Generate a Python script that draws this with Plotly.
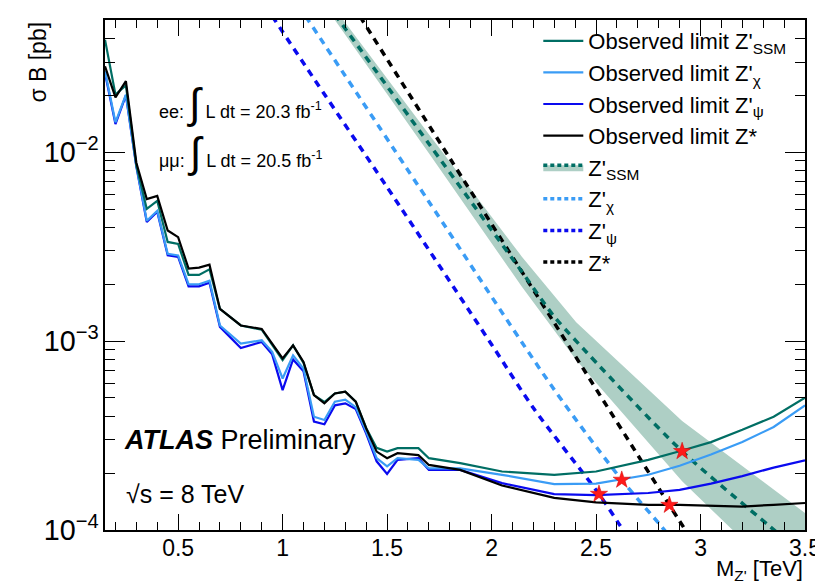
import plotly.graph_objects as go

FONT = "Liberation Sans, Arial, Helvetica, sans-serif"

# ---------------- data ----------------
mass = [0.15, 0.20, 0.25, 0.30, 0.35, 0.40, 0.45, 0.50, 0.55, 0.60, 0.65, 0.70,
        0.80, 0.90, 0.95, 1.00, 1.05, 1.10, 1.15, 1.20, 1.25, 1.30, 1.35, 1.40,
        1.45, 1.50, 1.55, 1.65, 1.70, 1.85, 2.05, 2.30, 2.50, 2.75, 2.90, 3.05,
        3.20, 3.35, 3.50]

obs_ssm = [3.94e-2, 2.02e-2, 2.26e-2, 8.5e-3, 5.01e-3, 5.53e-3, 3.35e-3, 3.27e-3,
           2.24e-3, 2.24e-3, 2.40e-3, 1.48e-3, 1.21e-3, 1.15e-3, 9.55e-4, 7.94e-4,
           9.5e-4, 7.67e-4, 5.18e-4, 4.76e-4, 5.28e-4, 5.40e-4, 4.78e-4, 3.47e-4,
           2.72e-4, 2.60e-4, 2.71e-4, 2.71e-4, 2.40e-4, 2.26e-4, 2.04e-4, 1.96e-4,
           2.04e-4, 2.35e-4, 2.61e-4, 2.92e-4, 3.39e-4, 3.98e-4, 5.01e-4]

obs_chi = [2.69e-2, 1.44e-2, 2.02e-2, 8.5e-3, 4.34e-3, 4.90e-3, 2.90e-3, 2.84e-3,
           2.0e-3, 2.0e-3, 2.09e-3, 1.21e-3, 9.7e-4, 1.01e-3, 8.77e-4, 6.34e-4,
           8.41e-4, 7.14e-4, 3.98e-4, 3.82e-4, 4.78e-4, 4.90e-4, 4.47e-4, 3.32e-4,
           2.40e-4, 2.17e-4, 2.40e-4, 2.35e-4, 2.12e-4, 2.12e-4, 1.96e-4, 1.75e-4,
           1.76e-4, 1.96e-4, 2.19e-4, 2.51e-4, 2.92e-4, 3.51e-4, 4.57e-4]

obs_psi = [2.63e-2, 1.41e-2, 2.0e-2, 8.4e-3, 4.27e-3, 4.84e-3, 2.85e-3, 2.79e-3,
           1.95e-3, 1.95e-3, 2.04e-3, 1.19e-3, 9.2e-4, 9.9e-4, 8.51e-4, 5.50e-4,
           8.0e-4, 6.92e-4, 3.75e-4, 3.63e-4, 4.57e-4, 4.68e-4, 4.37e-4, 3.24e-4,
           2.31e-4, 1.98e-4, 2.35e-4, 2.40e-4, 2.08e-4, 2.08e-4, 1.77e-4, 1.55e-4,
           1.53e-4, 1.57e-4, 1.63e-4, 1.76e-4, 1.93e-4, 2.14e-4, 2.34e-4]

obs_zstar = [2.85e-2, 1.95e-2, 2.38e-2, 8.8e-3, 5.65e-3, 5.87e-3, 3.85e-3, 3.55e-3,
             2.42e-3, 2.45e-3, 2.54e-3, 1.48e-3, 1.21e-3, 1.16e-3, 9.7e-4, 8.1e-4,
             9.5e-4, 7.76e-4, 5.18e-4, 4.68e-4, 5.28e-4, 5.40e-4, 4.78e-4, 3.45e-4,
             2.60e-4, 2.40e-4, 2.55e-4, 2.49e-4, 2.21e-4, 2.08e-4, 1.72e-4, 1.48e-4,
             1.40e-4, 1.36e-4, 1.36e-4, 1.34e-4, 1.33e-4, 1.36e-4, 1.39e-4]

# theory predictions
th_ssm_m = [1.25, 1.70, 2.145, 2.296, 2.405, 2.912, 3.325, 3.45]
th_ssm = [5.37e-2, 1.109e-2, 2.33e-3, 1.365e-3, 1.0e-3, 2.61e-4, 1.06e-4, 8.1e-5]

band_m = [1.25, 1.70, 2.145, 2.405, 2.912, 3.325, 3.50]
band_hi = [5.75e-2, 1.245e-2, 2.80e-3, 1.26e-3, 3.78e-4, 1.72e-4, 1.23e-4]
band_lo = [5.01e-2, 9.89e-3, 1.94e-3, 7.94e-4, 1.81e-4, 6.55e-5, 4.27e-5]

th_chi_m = [1.11, 1.70, 2.296, 2.623, 2.808, 2.85]
th_chi = [5.25e-2, 5.47e-3, 5.61e-4, 1.84e-4, 1.06e-4, 9.3e-5]

th_psi_m = [0.95, 1.111, 1.50, 2.00, 2.201, 2.514, 2.614, 2.65]
th_psi = [5.26e-2, 2.84e-2, 6.53e-3, 9.6e-4, 4.41e-4, 1.55e-4, 1.06e-4, 9.3e-5]

th_zstar_m = [1.37, 1.80, 2.296, 2.851, 2.93]
th_zstar = [5.24e-2, 9.3e-3, 1.27e-3, 1.355e-4, 9.9e-5]

# limit crossing points (stars)
star_m = [2.912, 2.623, 2.514, 2.851]
star_v = [2.61e-4, 1.84e-4, 1.55e-4, 1.355e-4]

x_ticks = [0.5, 1, 1.5, 2, 2.5, 3, 3.5]
x_ticklabels = ["0.5", "1", "1.5", "2", "2.5", "3", "3.5"]

# ---------------- styles ----------------
C_SSM = "#006e64"
C_CHI = "#3a9cf5"
C_PSI = "#0a0aef"
C_ZST = "#000000"
C_BAND = "#aecfc5"
DASH = "7px,6px"

fig = go.Figure()

# band
fig.add_trace(go.Scatter(x=band_m + band_m[::-1], y=band_hi + band_lo[::-1],
                         mode="lines", fill="toself", fillcolor=C_BAND,
                         line=dict(width=0), showlegend=False, hoverinfo="skip"))

def theory(xs, ys, color):
    fig.add_trace(go.Scatter(x=xs, y=ys, mode="lines",
                             line=dict(color=color, width=3.5, dash=DASH,
                                       shape="spline", smoothing=0.8),
                             showlegend=False))

theory(th_psi_m, th_psi, C_PSI)
theory(th_chi_m, th_chi, C_CHI)
theory(th_zstar_m, th_zstar, C_ZST)
theory(th_ssm_m, th_ssm, C_SSM)

def observed(ys, color, name, rank):
    fig.add_trace(go.Scatter(x=mass, y=ys, mode="lines", name=name,
                             line=dict(color=color, width=2.2), legendrank=rank))

observed(obs_psi, C_PSI, "Observed limit Z'<sub>ψ</sub>", 3)
observed(obs_chi, C_CHI, "Observed limit Z'<sub>χ</sub>", 2)
observed(obs_ssm, C_SSM, "Observed limit Z'<sub>SSM</sub>", 1)
observed(obs_zstar, C_ZST, "Observed limit Z*", 4)

fig.add_trace(go.Scatter(x=star_m, y=star_v, mode="markers",
                         marker=dict(symbol="star", size=13, color="#ff1a1a",
                                     line=dict(color="#d00000", width=0.5)),
                         showlegend=False))

# legend proxies for theory curves
def proxy(name, color, rank, band=False):
    kw = {}
    if band:
        kw = dict(fill="toself", fillcolor=C_BAND)
    fig.add_trace(go.Scatter(x=[None], y=[None], mode="lines", name=name,
                             line=dict(color=color, width=3.5, dash="4px,3px"),
                             legendrank=rank, **kw))

proxy("Z'<sub>SSM</sub>", C_SSM, 5, band=True)
proxy("Z'<sub>χ</sub>", C_CHI, 6)
proxy("Z'<sub>ψ</sub>", C_PSI, 7)
proxy("Z*", C_ZST, 8)

fig.update_layout(
    width=823, height=584,
    margin=dict(l=97, r=18, t=10, b=62),
    paper_bgcolor="white", plot_bgcolor="white",
    font=dict(family=FONT, size=22, color="black"),
    legend=dict(x=0.619, y=1.0, xanchor="left", yanchor="top",
                bgcolor="rgba(0,0,0,0)", font=dict(size=22),
                tracegroupgap=0, itemwidth=40),
    showlegend=True,
)

fig.update_xaxes(range=[0.15, 3.5], tickvals=x_ticks, ticktext=x_ticklabels,
                 ticks="inside", ticklen=16, tickwidth=1.2, tickcolor="black",
                 showline=True, linecolor="black", linewidth=1.5, mirror="allticks",
                 showgrid=False, zeroline=False, ticklabelstandoff=-3,
                 tickfont=dict(size=23),
                 minor=dict(ticks="inside", ticklen=8, dtick=0.1, tickcolor="black",
                            tickwidth=1, showgrid=False))
fig.update_yaxes(type="log", range=[-4, -1.3], dtick=1, exponentformat="power",
                 ticks="inside", ticklen=20, tickwidth=1.2, tickcolor="black",
                 showline=True, linecolor="black", linewidth=1.5, mirror="allticks",
                 showgrid=False, zeroline=False,
                 tickfont=dict(size=23),
                 minor=dict(ticks="inside", ticklen=10, tickcolor="black",
                            tickwidth=1, showgrid=False))

ann = [
    dict(text="σ B [pb]", textangle=-90, xref="paper", yref="paper",
         x=-0.097, y=1.0, xanchor="center", yanchor="top", showarrow=False,
         font=dict(size=23)),
    dict(text="M<sub>Z'</sub> [TeV]", xref="paper", yref="paper",
         x=1.0, y=-0.079, xanchor="right", yanchor="middle", showarrow=False,
         font=dict(size=22)),
    dict(text="ee: <span style='font-size:42px'>∫</span> L dt = 20.3 fb<sup>-1</sup>",
         xref="paper", yref="paper", x=0.074, y=0.836, xanchor="left", yanchor="middle",
         showarrow=False, font=dict(size=18)),
    dict(text="μμ: <span style='font-size:42px'>∫</span> L dt = 20.5 fb<sup>-1</sup>",
         xref="paper", yref="paper", x=0.074, y=0.74, xanchor="left", yanchor="middle",
         showarrow=False, font=dict(size=18)),
    dict(text="<b><i>ATLAS</i></b> Preliminary", xref="paper", yref="paper",
         x=0.024, y=0.176, xanchor="left", yanchor="middle", showarrow=False,
         font=dict(size=27)),
    dict(text="√s = 8 TeV", xref="paper", yref="paper",
         x=0.027, y=0.07, xanchor="left", yanchor="middle", showarrow=False,
         font=dict(size=25)),
]
fig.update_layout(annotations=ann)

fig.write_html("out.html")
